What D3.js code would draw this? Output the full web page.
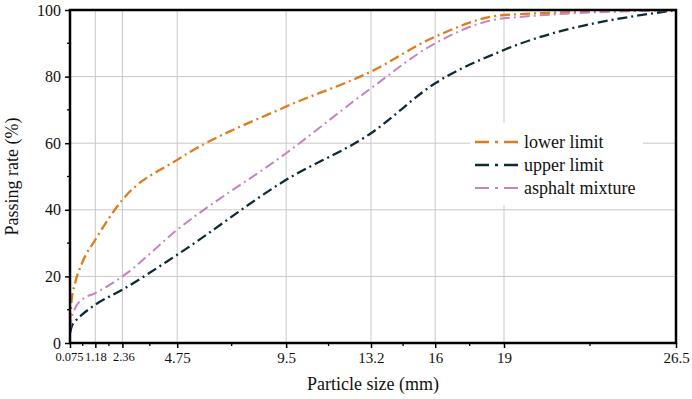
<!DOCTYPE html>
<html>
<head>
<meta charset="utf-8">
<script src="https://cdn.jsdelivr.net/npm/d3@7"></script>
<style>
  html, body { margin: 0; padding: 0; background: #fff; }
  svg { display: block; }
</style>
</head>
<body>
<svg id="chart" width="692" height="399"></svg>
<script>
const sizes = [0.075, 0.15, 0.3, 0.6, 1.18, 2.36, 4.75, 9.5, 13.2, 16, 19, 26.5];
const xTickValues = [0.075, 1.18, 2.36, 4.75, 9.5, 13.2, 16, 19, 26.5];
const xTickLabels = ["0.075", "1.18", "2.36", "4.75", "9.5", "13.2", "16", "19", "26.5"];
const yTickValues = [0, 20, 40, 60, 80, 100];
const lowerLimit = [6, 13, 18, 24, 31, 43, 55, 71, 81.5, 92, 98.5, 100];
const upperLimit = [3, 5, 6.5, 8.5, 11.5, 16, 26.5, 49, 63, 78, 88, 100];
const asphaltMixture = [4, 7.5, 10.5, 13, 15, 20, 34, 57, 76.5, 90, 97.5, 100];
const seriesNames = ["lower limit", "upper limit", "asphalt mixture"];

const FONT = "'Liberation Serif', 'Times New Roman', serif";
const colors = ["#e07b1a", "#0d2b36", "#c883bf"];
const widths = [2.3, 2.3, 2];
const seriesValues = [lowerLimit, upperLimit, asphaltMixture];

const svg = d3.select("#chart");
const L = 70, R = 676, T = 10, B = 343;
const x = d3.scaleLinear().domain([0.075, 26.5]).range([L, R]);
const y = d3.scaleLinear().domain([0, 100]).range([B, T]);

// grid
const grid = svg.append("g");
grid.selectAll("line.v").data(xTickValues.slice(1, -1)).join("line")
  .attr("x1", d => x(d)).attr("x2", d => x(d)).attr("y1", T).attr("y2", B)
  .attr("stroke", "#c9c9c9").attr("stroke-width", 1);
grid.selectAll("line.h").data(yTickValues.slice(1, -1)).join("line")
  .attr("x1", L).attr("x2", R).attr("y1", d => y(d)).attr("y2", d => y(d))
  .attr("stroke", "#c9c9c9").attr("stroke-width", 1);

// legend background
svg.append("rect").attr("x", 470).attr("y", 123).attr("width", 173).attr("height", 82).attr("fill", "#fff");

// lines
const line = d3.line().x(d => x(d[0])).y(d => y(d[1])).curve(d3.curveMonotoneX);
seriesValues.forEach((vals, i) => {
  svg.append("path")
    .datum(sizes.map((s, j) => [s, vals[j]]))
    .attr("d", line)
    .attr("fill", "none")
    .attr("stroke", colors[i])
    .attr("stroke-width", widths[i])
    .attr("stroke-dasharray", "10,4,2,4");
});

// minor ticks
const minorX = xTickValues.slice(0, -1).map((v, i) => (v + xTickValues[i + 1]) / 2);
const minorY = d3.range(10, 100, 20);

// x axis
const xAxis = d3.axisBottom(x).tickValues(xTickValues).tickFormat((d, i) => xTickLabels[i]).tickSize(5).tickPadding(4);
const gx = svg.append("g").attr("transform", `translate(0,${B})`).call(xAxis);
gx.select(".domain").remove();
gx.selectAll(".tick line").attr("stroke", "#000").attr("stroke-width", 1.5);
gx.selectAll(".tick text").attr("font-size", 15).style("font-family", FONT).attr("fill", "#111")
  .each(function(d, i) {
    const sel = d3.select(this);
    if (i < 3) sel.attr("font-size", 12.5);
    if (i === 0) sel.attr("dx", -1);
    if (i === 2) sel.attr("dx", 1);
  });
svg.append("g").selectAll("line").data(minorX).join("line")
  .attr("x1", d => x(d)).attr("x2", d => x(d)).attr("y1", B).attr("y2", B + 3)
  .attr("stroke", "#000").attr("stroke-width", 1.3);

// y axis
const yAxis = d3.axisLeft(y).tickValues(yTickValues).tickSize(5).tickPadding(4);
const gy = svg.append("g").attr("transform", `translate(${L},0)`).call(yAxis);
gy.select(".domain").remove();
gy.selectAll(".tick line").attr("stroke", "#000").attr("stroke-width", 1.5);
gy.selectAll(".tick text").attr("font-size", 16).style("font-family", FONT).attr("fill", "#111");
svg.append("g").selectAll("line").data(minorY).join("line")
  .attr("x1", L - 3).attr("x2", L).attr("y1", d => y(d)).attr("y2", d => y(d))
  .attr("stroke", "#000").attr("stroke-width", 1.3);

// frame
svg.append("rect").attr("x", L).attr("y", T).attr("width", R - L).attr("height", B - T)
  .attr("fill", "none").attr("stroke", "#000").attr("stroke-width", 2.5);

// axis titles
svg.append("text").attr("x", (L + R) / 2).attr("y", 390).attr("text-anchor", "middle")
  .style("font-family", FONT).attr("font-size", 18).attr("fill", "#111").text("Particle size (mm)");
svg.append("text").attr("transform", `translate(18,${(T + B) / 2}) rotate(-90)`).attr("text-anchor", "middle")
  .style("font-family", FONT).attr("font-size", 18).attr("fill", "#111").text("Passing rate (%)");

// legend
const legY = [142, 165, 188];
const lg = svg.append("g");
seriesNames.forEach((name, i) => {
  lg.append("line").attr("x1", 475).attr("x2", 518).attr("y1", legY[i]).attr("y2", legY[i])
    .attr("stroke", colors[i]).attr("stroke-width", widths[i])
    .attr("stroke-dasharray", "14,6,3,6,14");
  lg.append("text").attr("x", 524).attr("y", legY[i] + 6).style("font-family", FONT)
    .attr("font-size", 18).attr("fill", "#111").text(name);
});
</script>
</body>
</html>
